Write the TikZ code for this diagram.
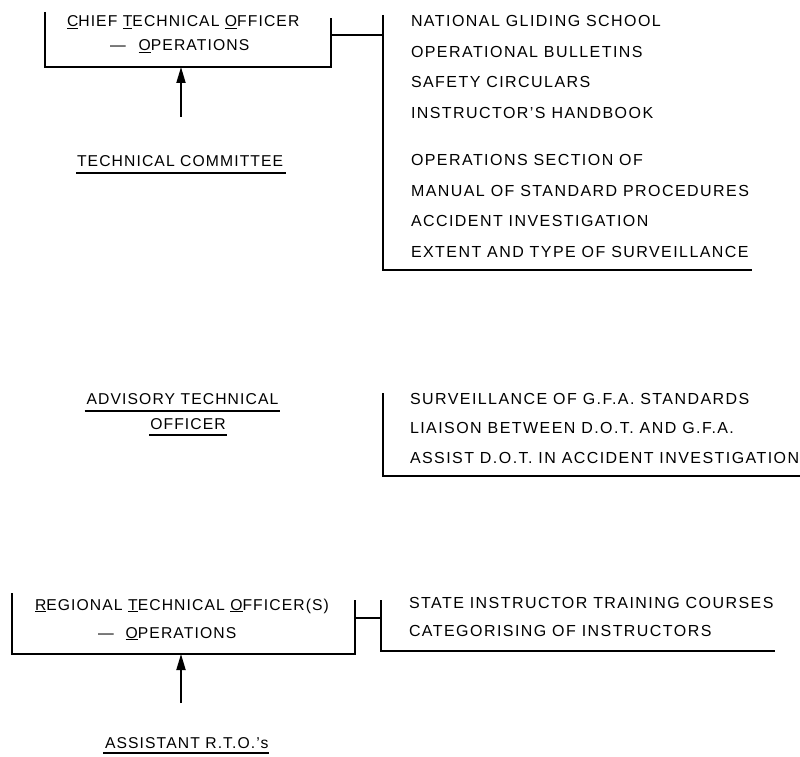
\documentclass[tikz,border=0pt]{standalone}
\usepackage{fontspec}
\setmainfont{Liberation Sans}[LetterSpace=7]
\usetikzlibrary{arrows.meta,calc}
\newcommand{\ulc}[1]{\underline{#1}}
\begin{document}
\begin{tikzpicture}[x=1pt,y=-1pt,
  font=\fontsize{15.7}{19}\selectfont,
  txt/.style={anchor=base west, inner sep=0pt, outer sep=0pt},
  ctxt/.style={anchor=base, inner sep=0pt, outer sep=0pt},
  item/.style={txt, font=\fontsize{16}{19}\selectfont\addfontfeature{LetterSpace=9}},
  frame/.style={inner sep=0pt, outer sep=0pt, minimum width=#1},
  rule/.style={line width=1.2pt},
  uline/.style={line width=1.1pt},
  arr/.style={line width=1.8pt, -{Triangle[length=16pt,width=9pt]}}]
\useasboundingbox (0,0) rectangle (800,757);

% ---------- Chief Technical Officer ----------
\node[frame=286pt, minimum height=55pt] (ctobox) at (188,39.5) {};
\draw[rule] (ctobox.north west) -- (ctobox.south west) -- (ctobox.south east) -- ([yshift=-6pt]ctobox.north east);
\node[txt] (cto1) at (67,27) {\ulc{C}HIEF \ulc{T}ECHNICAL \ulc{O}FFICER};
\node[txt] (cto2) at (110,51) {—\hspace{13pt}\ulc{O}PERATIONS};

\node[frame=369pt, minimum height=255pt] (br1) at (567.5,142.5) {};
\draw[rule] (br1.north west) -- (br1.south west) -- (br1.south east);
\draw[rule] ([yshift=4.5pt]ctobox.east) -- ([yshift=4.5pt]ctobox.east -| br1.west);

\node[item] (i1) at (411,27) {NATIONAL GLIDING SCHOOL};
\node[item] (i2) at (411,58) {OPERATIONAL BULLETINS};
\node[item] (i3) at (411,88) {SAFETY CIRCULARS};
\node[item] (i4) at (411,119) {INSTRUCTOR’S HANDBOOK};
\node[item] (i5) at (411,165) {OPERATIONS SECTION OF};
\node[item] (i6) at (411,196) {MANUAL OF STANDARD PROCEDURES};
\node[item] (i7) at (411,226) {ACCIDENT INVESTIGATION};
\node[item] (i8) at (411,257) {EXTENT AND TYPE OF SURVEILLANCE};

\node[txt] (tc) at (77,166) {TECHNICAL COMMITTEE};
\draw[uline] ([shift={(-1pt,-7pt)}]tc.base west) -- ([shift={(3pt,-7pt)}]tc.base east);
\coordinate (a1) at (181,117);
\draw[arr] (a1) -- (a1 |- ctobox.south);

% ---------- Advisory Technical Officer ----------
\node[ctxt] (adv1) at (182.5,404) {ADVISORY TECHNICAL};
\draw[uline] ([shift={(-2pt,-7pt)}]adv1.base west) -- ([shift={(2pt,-7pt)}]adv1.base east);
\node[ctxt] (adv2) at (188,429) {OFFICER};
\draw[uline] ([shift={(-1pt,-6pt)}]adv2.base west) -- ([shift={(1pt,-6pt)}]adv2.base east);

\node[frame=417pt, minimum height=83pt] (br2) at (591.5,434.5) {};
\draw[rule] (br2.north west) -- (br2.south west) -- (br2.south east);
\node[item] (j1) at (410,404) {SURVEILLANCE OF G.F.A. STANDARDS};
\node[item] (j2) at (410,433) {LIAISON BETWEEN D.O.T. AND G.F.A.};
\node[item] (j3) at (410,463) {ASSIST D.O.T. IN ACCIDENT INVESTIGATION};

% ---------- Regional Technical Officer(s) ----------
\node[frame=343pt, minimum height=61pt] (rtobox) at (183.5,623.5) {};
\draw[rule] (rtobox.north west) -- (rtobox.south west) -- (rtobox.south east) -- ([yshift=-7pt]rtobox.north east);
\node[txt] (rto1) at (35,610) {\ulc{R}EGIONAL \ulc{T}ECHNICAL \ulc{O}FFICER(S)};
\node[txt] (rto2) at (98,638) {—\hspace{12pt}\ulc{O}PERATIONS};

\node[frame=394pt, minimum height=51pt] (br3) at (578,625.5) {};
\draw[rule] (br3.north west) -- (br3.south west) -- (br3.south east);
\draw[rule] ([yshift=5.5pt]rtobox.east) -- ([yshift=5.5pt]rtobox.east -| br3.west);
\node[item] (k1) at (409,608) {STATE INSTRUCTOR TRAINING COURSES};
\node[item] (k2) at (409,636) {CATEGORISING OF INSTRUCTORS};

\node[txt] (asst) at (105,748) {ASSISTANT R.T.O.’s};
\draw[uline] ([shift={(-2pt,-5pt)}]asst.base west) -- ([shift={(0pt,-5pt)}]asst.base east);
\coordinate (a2) at (181,703);
\draw[arr] (a2) -- (a2 |- rtobox.south);
\end{tikzpicture}
\end{document}
